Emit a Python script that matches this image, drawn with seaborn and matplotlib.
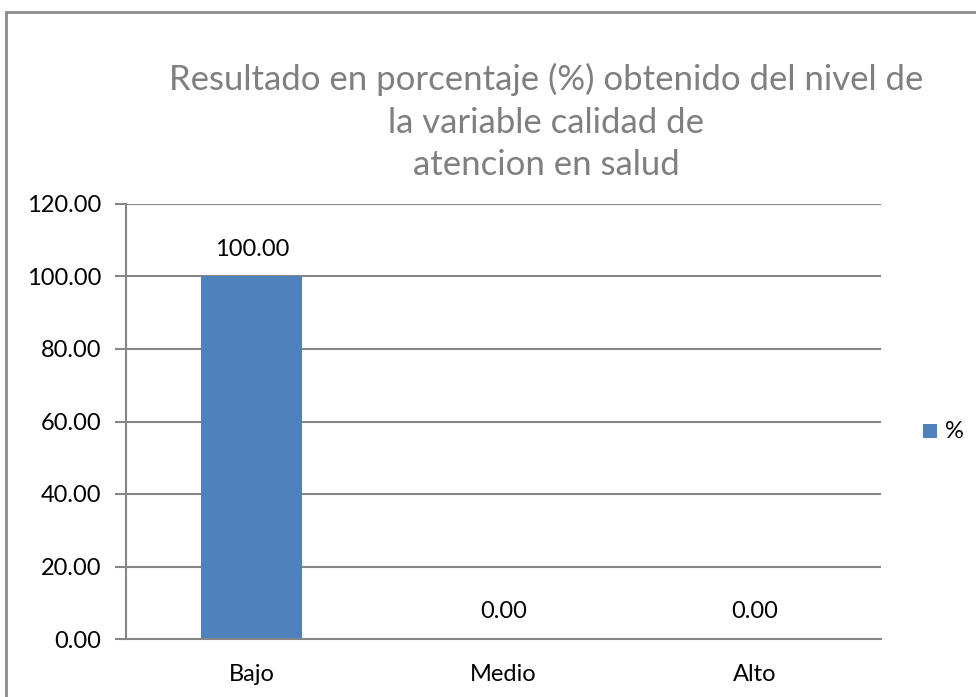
import matplotlib
matplotlib.use("Agg")
import matplotlib.pyplot as plt
import seaborn as sns
import pandas as pd
from matplotlib.patches import Rectangle

niveles = ["Bajo", "Medio", "Alto"]
porcentajes = [100.00, 0.00, 0.00]
serie = "%"
titulo = "Resultado en porcentaje (%) obtenido del nivel de\nla variable calidad de\natencion en salud"
y_ticks = [0, 20, 40, 60, 80, 100, 120]

sns.set_theme(style="white")
plt.rcParams["font.family"] = ["Lato", "DejaVu Sans"]

df = pd.DataFrame({"nivel": niveles, "valor": porcentajes, "serie": serie})

fig = plt.figure(figsize=(9.76, 6.97), dpi=100)
ax = fig.add_axes([126 / 976, 1 - 639 / 697, (881 - 126) / 976, (639 - 204) / 697])

bar_color = "#4F81BD"
grid_color = "#868686"
sns.barplot(data=df, x="nivel", y="valor", hue="serie", palette=[bar_color],
            width=0.4, ax=ax, legend=False, saturation=1, linewidth=0)

label_size = 17
ax.set_ylim(0, 120)
ax.set_xlim(-0.5, len(niveles) - 0.5)
ax.set_yticks(y_ticks)
ax.set_yticklabels([f"{t:.2f}" for t in y_ticks], fontsize=label_size, color="black")
ax.set_xticks(range(len(niveles)))
ax.set_xticklabels(niveles, fontsize=label_size, color="black")
ax.set_xticks([i - 0.5 for i in range(len(niveles) + 1)], minor=True)
ax.tick_params(axis="x", which="major", length=0, pad=18)
ax.tick_params(axis="x", which="minor", length=8, width=1.5, color=grid_color, direction="out")
ax.tick_params(axis="y", length=8, width=1.5, color=grid_color, direction="out", pad=10, left=True)
ax.set_xlabel("")
ax.set_ylabel("")

for t in y_ticks[1:]:
    ax.axhline(t, color=grid_color, linewidth=1.5, zorder=0)

for side in ["top", "right"]:
    ax.spines[side].set_visible(False)
for side in ["left", "bottom"]:
    ax.spines[side].set_color(grid_color)
    ax.spines[side].set_linewidth(1.5)

for i, v in enumerate(porcentajes):
    ax.annotate(f"{v:.2f}", (i, v), xytext=(0, 12), textcoords="offset points",
                ha="center", va="bottom", fontsize=label_size, color="black")

fig.text(546 / 976, 1 - 122 / 697, titulo, ha="center", va="center",
         fontsize=25, color="#7F7F7F", linespacing=1.4)

# legend
fig.patches.append(Rectangle((923 / 976, 1 - 438 / 697), 14 / 976, 14 / 697,
                             transform=fig.transFigure, facecolor=bar_color,
                             edgecolor="none"))
fig.text(945 / 976, 1 - 431 / 697, serie, ha="left", va="center",
         fontsize=label_size, color="black")

# outer chart frame
fig.patches.append(Rectangle((6 / 976, -0.05), 1.2, 1 - 12 / 697 + 0.05,
                             transform=fig.transFigure, facecolor="none",
                             edgecolor="#8C8C8C", linewidth=2, clip_on=False))

fig.savefig("out.png", dpi=100)
